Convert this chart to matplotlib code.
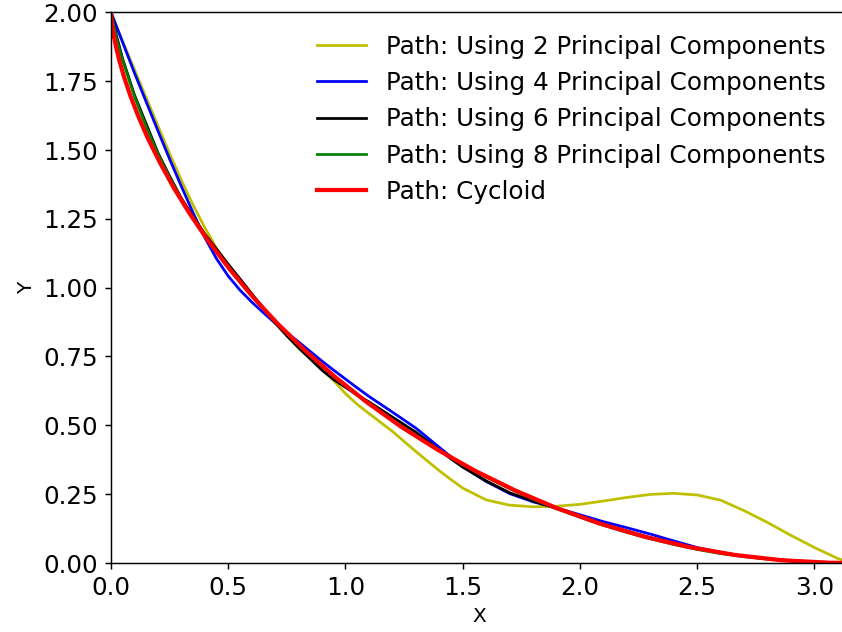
import numpy as np
import matplotlib
matplotlib.use("Agg")
import matplotlib.pyplot as plt

# x grid shared by the principal-component paths
x_pc = [0.0, 0.025, 0.05, 0.1, 0.15, 0.2, 0.25, 0.3, 0.35, 0.4, 0.45, 0.5, 0.55,
        0.6, 0.65, 0.7, 0.75, 0.8, 0.9, 0.95, 1.0, 1.05, 1.1, 1.2, 1.3, 1.4, 1.45,
        1.5, 1.6, 1.7, 1.8, 1.9, 2.0, 2.1, 2.2, 2.3, 2.4, 2.5, 2.6, 2.7, 2.8,
        2.9, 3.0, 3.1, 3.1416]

y_pc2 = [2.000, 1.947, 1.895, 1.792, 1.690, 1.588, 1.487, 1.390, 1.300, 1.218,
         1.143, 1.082, 1.030, 0.978, 0.925, 0.873, 0.826, 0.780, 0.705, 0.662,
         0.615, 0.576, 0.543, 0.478, 0.405, 0.335, 0.303, 0.272, 0.229, 0.210,
         0.204, 0.206, 0.213, 0.225, 0.238, 0.249, 0.253, 0.247, 0.228, 0.190,
         0.147, 0.100, 0.056, 0.016, 0.005]

y_pc4 = [2.000, 1.945, 1.890, 1.780, 1.675, 1.570, 1.467, 1.368, 1.272, 1.182,
         1.105, 1.042, 0.991, 0.948, 0.909, 0.871, 0.836, 0.803, 0.733, 0.700,
         0.668, 0.636, 0.605, 0.548, 0.490, 0.420, 0.385, 0.350, 0.296, 0.252,
         0.222, 0.200, 0.175, 0.150, 0.128, 0.105, 0.080, 0.056, 0.038, 0.025,
         0.016, 0.008, 0.004, 0.001, 0.000]

y_pc6 = [2.000, 1.910, 1.830, 1.700, 1.595, 1.490, 1.405, 1.325, 1.258, 1.195,
         1.140, 1.085, 1.032, 0.978, 0.924, 0.872, 0.825, 0.782, 0.700, 0.666,
         0.638, 0.610, 0.585, 0.530, 0.475, 0.410, 0.378, 0.348, 0.298, 0.255,
         0.225, 0.198, 0.170, 0.141, 0.116, 0.092, 0.072, 0.052, 0.036, 0.024,
         0.015, 0.008, 0.003, 0.000, 0.000]

y_pc8 = [2.000, 1.900, 1.825, 1.695, 1.585, 1.485, 1.400, 1.322, 1.253, 1.190,
         1.131, 1.076, 1.023, 0.972, 0.924, 0.878, 0.835, 0.793, 0.714, 0.678,
         0.643, 0.611, 0.580, 0.519, 0.463, 0.409, 0.383, 0.358, 0.312, 0.270,
         0.232, 0.197, 0.166, 0.137, 0.111, 0.088, 0.067, 0.049, 0.034, 0.023,
         0.014, 0.007, 0.003, 0.000, 0.000]

# cycloid path points
x_cyc = [0.0, 0.0002, 0.0013, 0.0045, 0.0106, 0.0206, 0.0354, 0.0558, 0.0826,
         0.1167, 0.1585, 0.2088, 0.2680, 0.3364, 0.4146, 0.5025, 0.6004, 0.7083,
         0.8262, 0.9537, 1.0907, 1.2368, 1.3915, 1.5543, 1.7245, 1.9015, 2.0845,
         2.2726, 2.4650, 2.6608, 2.8589, 3.0584, 3.1416]
y_cyc = [2.000, 1.995, 1.980, 1.955, 1.921, 1.878, 1.825, 1.765, 1.697, 1.622,
         1.540, 1.454, 1.362, 1.268, 1.170, 1.071, 0.971, 0.871, 0.773, 0.677,
         0.584, 0.495, 0.412, 0.334, 0.263, 0.199, 0.143, 0.096, 0.058, 0.029,
         0.010, 0.001, 0.000]

fig = plt.figure(figsize=(6.4, 4.8), dpi=131.7)
ax = fig.add_axes([0.1317, 0.1092, 0.874, 0.871])

ax.plot(x_pc, y_pc2, color='y', lw=1.5, label='Path: Using 2 Principal Components')
ax.plot(x_pc, y_pc4, color='b', lw=1.5, label='Path: Using 4 Principal Components')
ax.plot(x_pc, y_pc6, color='k', lw=1.5, label='Path: Using 6 Principal Components')
ax.plot(x_pc, y_pc8, color='g', lw=1.5, label='Path: Using 8 Principal Components')
ax.plot(x_cyc, y_cyc, color='r', lw=2.3, label='Path: Cycloid')

ax.set_xlim(0, np.pi)
ax.set_ylim(0, 2)
ax.set_xlabel('X', fontsize=11)
ax.set_ylabel('Y', fontsize=11)
ax.tick_params(labelsize=13.5)
ax.legend(loc='upper right', frameon=False, fontsize=13.5)

fig.savefig('out.png', dpi=131.7)
